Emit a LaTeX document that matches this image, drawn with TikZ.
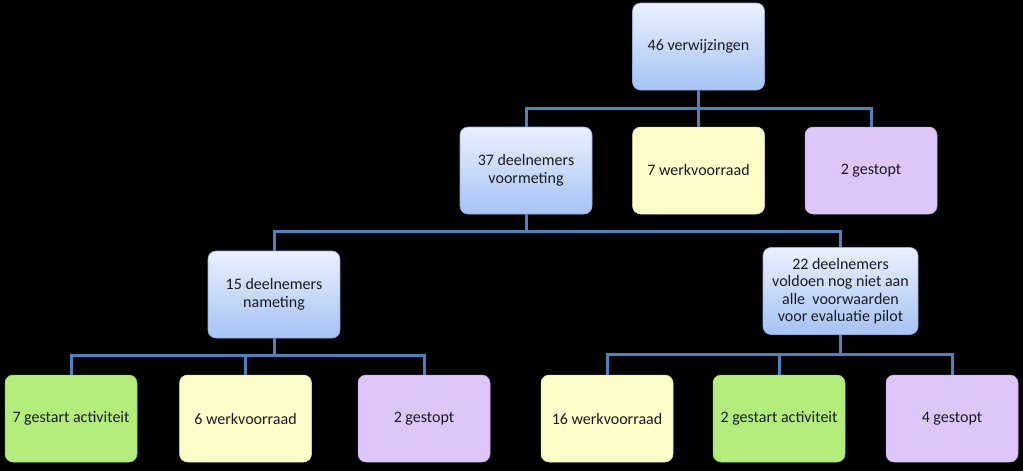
\documentclass[tikz,border=0pt]{standalone}
\usepackage{fontspec}
\setmainfont{Carlito}
\begin{document}
\begin{tikzpicture}[x=1pt,y=-1pt,
  box/.style={rounded corners=8pt, minimum width=132pt, minimum height=87pt, align=center,
    font=\fontsize{16}{17.5}\selectfont, text=txt, inner sep=2pt},
  bluebox/.style={box, top color=bluetop, bottom color=bluebot, draw=bluebord, line width=0.6pt},
  yellowbox/.style={box, fill=yel, draw=yelbord, line width=0.5pt},
  purplebox/.style={box, fill=pur, draw=purbord, line width=0.5pt},
  greenbox/.style={box, fill=grn, draw=grnbord, line width=0.5pt},
  conn/.style={draw=linec, line width=3pt}
]
\definecolor{bluetop}{HTML}{EAF0FD}
\definecolor{bluebot}{HTML}{A6C3F5}
\definecolor{bluebord}{HTML}{8FAEE0}
\definecolor{yel}{HTML}{FDFDC9}
\definecolor{yelbord}{HTML}{E6E6B0}
\definecolor{pur}{HTML}{DEC6FA}
\definecolor{purbord}{HTML}{C6AEE6}
\definecolor{grn}{HTML}{B3EE7C}
\definecolor{grnbord}{HTML}{9AD866}
\definecolor{linec}{HTML}{4F81BD}
\definecolor{txt}{HTML}{1A1A22}

\fill[black] (0,0) rectangle (1023,471);
\useasboundingbox (0,0) rectangle (1023,471);

\node[bluebox] (a) at (698.5,46.5) {46 verwijzingen};
\node[bluebox] (b) at (526,170.5) {37 deelnemers\\voormeting};
\node[yellowbox] (c) at (698.5,170.5) {7 werkvoorraad};
\node[purplebox] (d) at (871,170.5) {2 gestopt};
\node[bluebox] (e) at (274,294.5) {15 deelnemers\\nameting};
\node[bluebox, minimum width=155pt, minimum height=87pt] (f) at (840.5,291) {22 deelnemers\\voldoen nog niet aan\\alle\ \ voorwaarden\\voor evaluatie pilot};
\node[greenbox] (g) at (71,418.5) {7 gestart activiteit};
\node[yellowbox] (h) at (245.5,418.5) {6 werkvoorraad};
\node[purplebox] (i) at (424,418.5) {2 gestopt};
\node[yellowbox] (j) at (607,418.5) {16 werkvoorraad};
\node[greenbox] (k) at (779,418.5) {2 gestart activiteit};
\node[purplebox] (l) at (952,418.5) {4 gestopt};

\draw[conn] (a.south) -- (698.5,108) coordinate (ab);
\draw[conn] (b.north) |- (ab) -| (d.north);
\draw[conn] (ab) -- (c.north);

\draw[conn] (b.south) -- (526,231) coordinate (bb);
\draw[conn] (e.north) |- (bb) -| (f.north);

\draw[conn] (e.south) -- (274,355) coordinate (eb);
\draw[conn] (g.north) |- (eb) -| (i.north);
\draw[conn] (h.north) -- (h.north |- eb);

\draw[conn] (f.south) -- (840.5,354) coordinate (fb);
\draw[conn] (j.north) |- (fb) -| (l.north);
\draw[conn] (k.north) -- (k.north |- fb);
\end{tikzpicture}
\end{document}
